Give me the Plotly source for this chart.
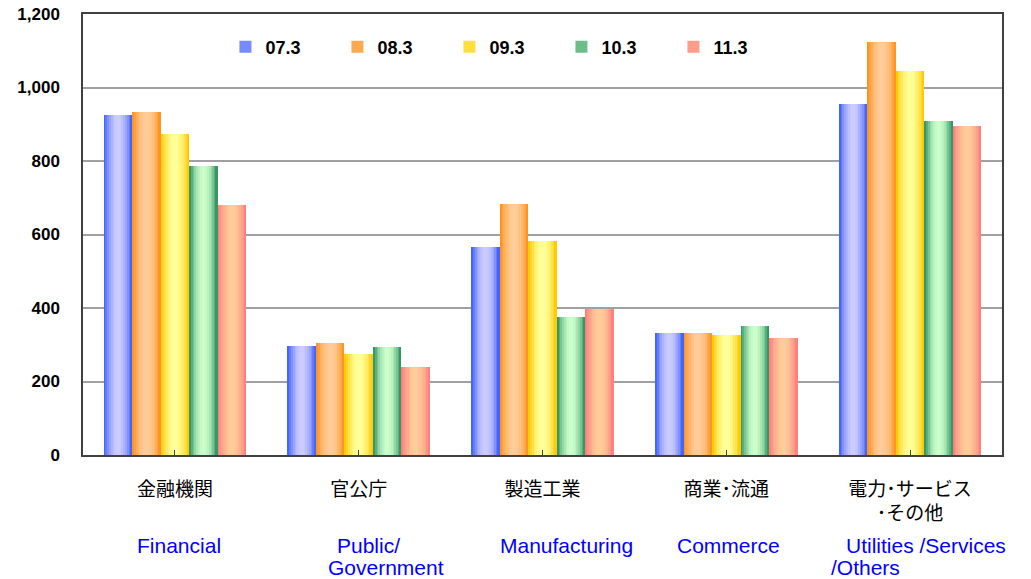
import plotly.graph_objects as go
import math

categories_jp = ["金融機関", "官公庁", "製造工業", "商業･流通", "電力･サービス<br>･その他"]
categories_en_line1 = ["Financial", "Public/", "Manufacturing", "Commerce", "Utilities /Services"]
categories_en_line2 = ["", "Government", "", "", "/Others"]
en_shift_line1 = [-40, -24, -45, -51, -66]
en_shift_line2 = [0, -33, 0, 0, -81]
series_names = ["07.3", "08.3", "09.3", "10.3", "11.3"]
values = {
    "07.3": [925, 297, 566, 332, 955],
    "08.3": [933, 305, 683, 332, 1124],
    "09.3": [873, 275, 582, 327, 1045],
    "10.3": [786, 294, 376, 351, 909],
    "11.3": [680, 239, 397, 318, 895],
}
y_ticks = [0, 200, 400, 600, 800, 1000, 1200]

# gradient colours (edge, middle) per series
edge_colors = {"07.3": (60, 95, 255), "08.3": (255, 145, 30), "09.3": (255, 200, 0),
               "10.3": (45, 145, 95), "11.3": (255, 125, 125)}
mid_colors = {"07.3": (204, 204, 255), "08.3": (255, 204, 153), "09.3": (255, 255, 153),
              "10.3": (204, 255, 204), "11.3": (255, 204, 153)}


def blend(c1, c2, t):
    return "rgb(%d,%d,%d)" % tuple(round(a + (b - a) * t) for a, b in zip(c1, c2))


group_w = 0.775
bar_w = group_w / len(series_names)
n_strips = 16
strip_w = bar_w / n_strips

fig = go.Figure()
cats = list(range(len(categories_jp)))
for i, name in enumerate(series_names):
    start = -group_w / 2 + i * bar_w
    for k in range(n_strips):
        pos = (k + 0.5) / n_strips
        t = math.sin(math.pi * min(1.0, max(0.0, (pos - 0.02) / 0.96))) ** 0.9
        col = blend(edge_colors[name], mid_colors[name], t)
        w = strip_w * (1.35 if k < n_strips - 1 else 1.0)
        fig.add_trace(go.Bar(
            x=cats, y=values[name], offset=start + k * strip_w, width=w,
            marker=dict(color=col, line=dict(width=0)),
            name=name, legendgroup=name, showlegend=False, hoverinfo="y+name",
        ))
    fig.add_trace(go.Bar(
        x=[None], y=[None], name=name, legendgroup=name, showlegend=True,
        marker=dict(color=blend(edge_colors[name], mid_colors[name], 0.4), line=dict(width=0)),
    ))

en_font = dict(family="Arial, Liberation Sans", size=21, color="#0000FF")
for c, t1, s1, t2, s2 in zip(cats, categories_en_line1, en_shift_line1,
                             categories_en_line2, en_shift_line2):
    fig.add_annotation(x=c, xref="x", y=-0.2063, yref="paper", text=t1, showarrow=False,
                       xanchor="left", yanchor="middle", xshift=s1, font=en_font)
    if t2:
        fig.add_annotation(x=c, xref="x", y=-0.2562, yref="paper", text=t2, showarrow=False,
                           xanchor="left", yanchor="middle", xshift=s2, font=en_font)

fig.update_layout(
    width=1031, height=579,
    margin=dict(l=83, r=29, t=14, b=124, autoexpand=False),
    paper_bgcolor="white", plot_bgcolor="white",
    barmode="overlay", bargap=0,
    showlegend=True,
    legend=dict(orientation="h", x=0.155, y=0.925, xanchor="left", yanchor="middle",
                bgcolor="rgba(0,0,0,0)", entrywidth=67, itemwidth=30,
                font=dict(family="Arial, Liberation Sans", size=18, color="black", weight="bold")),
    xaxis=dict(
        tickmode="array", tickvals=cats, ticktext=categories_jp,
        range=[-0.5, len(cats) - 0.5], automargin=False,
        showline=True, linecolor="#404040", linewidth=1.5, mirror=True,
        ticks="inside", ticklen=5, tickcolor="#404040", tickson="boundaries",
        showgrid=False, ticklabelstandoff=16,
        tickfont=dict(family="Noto Sans CJK JP", size=19, color="black"),
    ),
    yaxis=dict(
        range=[0, 1200], tickvals=y_ticks, tickformat=",", automargin=False,
        showline=True, linecolor="#404040", linewidth=1.5, mirror=True,
        showgrid=True, gridcolor="#A0A0A0", gridwidth=1.5,
        ticks="", ticklabelstandoff=18, zeroline=False,
        tickfont=dict(family="Arial, Liberation Sans", size=17, color="black", weight="bold"),
    ),
)

fig.write_html("out.html", config={"displayModeBar": False},
               post_script="document.body.style.margin='0';document.body.style.overflow='hidden';")
